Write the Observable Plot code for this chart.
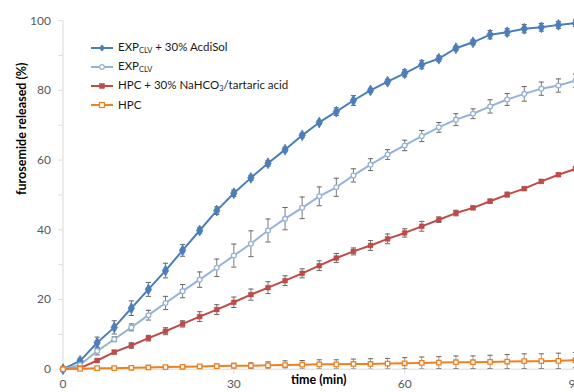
<!DOCTYPE html>
<html>
<head>
<meta charset="utf-8">
<script src="https://cdn.jsdelivr.net/npm/d3@7"></script>
<script src="https://cdn.jsdelivr.net/npm/@observablehq/plot@0.6"></script>
<style>
  html, body { margin: 0; padding: 0; background: #fff; overflow: hidden; }
  #wrap { position: relative; width: 574px; height: 392px; font-family: Lato, "Open Sans", sans-serif; }
  #legend { position: absolute; left: 91px; top: 38px; font-size: 11.5px; color: #1a1a1a; }
  #legend .row { display: flex; align-items: center; height: 19px; white-space: nowrap; }
  #legend svg { margin-right: 4px; }
  #legend sub { font-size: 7.5px; vertical-align: -2px; }
</style>
</head>
<body>
<div id="wrap"><div id="chart"></div><div id="legend"></div></div>
<script>
// ---- data ----
const time = [0,3,6,9,12,15,18,21,24,27,30,33,36,39,42,45,48,51,54,57,60,63,66,69,72,75,78,81,84,87,90];

const acdisol    = [0,2.4,7.6,12.0,17.5,22.9,28.3,34.1,39.8,45.5,50.5,54.9,59.1,63.0,67.1,70.8,73.9,77.1,80.0,82.5,84.9,87.4,89.1,92.1,93.8,96.0,96.7,97.7,98.1,98.8,99.3];
const acdisolErr = [0,0.6,1.6,1.9,2.1,2.0,2.1,1.7,0.8,1.1,0.9,0.7,0.8,0.6,0.6,0.5,1.1,1.4,0.6,0.7,1.0,1.2,0.8,0.6,0.7,1.2,1.0,1.2,1.1,1.0,1.0];

const expclv     = [0,1.2,5.2,8.6,12.0,15.5,19.0,22.4,25.7,29.1,32.6,36.0,39.8,43.2,46.3,49.6,52.2,55.6,58.7,61.6,64.2,66.9,69.4,71.6,73.3,75.4,77.4,79.0,80.5,81.4,82.8];
const expclvErr  = [0,0.3,1.1,0.7,1.0,1.4,1.9,1.9,2.2,2.5,3.3,3.7,3.3,3.2,3.1,2.7,2.6,1.9,1.7,1.4,1.5,1.6,1.4,1.7,1.4,1.9,1.7,2.1,1.9,1.9,1.9];

const hpcNa      = [0,0.3,2.5,4.9,6.8,8.9,10.9,13.0,15.1,17.1,19.2,21.4,23.4,25.4,27.5,29.7,31.9,33.8,35.5,37.4,39.1,41.0,42.9,44.8,46.3,48.2,50.1,51.8,53.9,55.8,57.5];
const hpcNaErr   = [0,0.2,0.5,0.5,0.8,0.8,1.0,0.9,1.4,1.4,1.5,1.6,1.7,1.4,1.3,1.4,1.3,1.0,1.4,1.4,1.2,1.4,0.8,0.8,0.5,0.6,0.7,0.5,0.5,0.5,0.5];

const hpc        = [0,0.1,0.3,0.3,0.4,0.5,0.6,0.7,0.8,0.9,1.0,1.0,1.1,1.2,1.3,1.4,1.4,1.5,1.5,1.6,1.7,1.8,1.9,2.0,2.0,2.1,2.2,2.3,2.3,2.4,2.6];
const hpcErr     = [0,0.2,0.3,0.3,0.3,0.3,0.4,0.4,0.5,0.6,0.7,0.8,1.0,1.2,1.2,1.3,1.3,1.4,1.5,1.5,1.6,1.7,1.7,1.8,1.8,1.9,2.0,2.1,2.1,2.2,2.2];

const seriesKeys = ["acdisol", "expclv", "hpcNa", "hpc"];
const seriesLabels = ["EXP<sub>CLV</sub> + 30% AcdiSol", "EXP<sub>CLV</sub>", "HPC + 30% NaHCO<sub>3</sub>/tartaric acid", "HPC"];
const xTicks = [0, 30, 60, 90];
const yTicks = [0, 10, 20, 30, 40, 50, 60, 70, 80, 90, 100];

// ---- styles ----
const colors = {acdisol: "#4A7EBB", expclv: "#95B3D7", hpcNa: "#BE4B48", hpc: "#F0801F"};
const markerStyle = {
  acdisol: {symbol: "diamond", r: 3.3, fill: colors.acdisol, stroke: colors.acdisol, strokeWidth: 0.8},
  expclv:  {symbol: "circle",  r: 2.4, fill: "white", stroke: colors.expclv, strokeWidth: 1.3},
  hpcNa:   {symbol: "square",  r: 2.7, fill: colors.hpcNa, stroke: colors.hpcNa, strokeWidth: 0.5},
  hpc:     {symbol: "square",  r: 2.5, fill: "white", stroke: colors.hpc, strokeWidth: 1.3}
};
const valuesBy = {acdisol, expclv, hpcNa, hpc};
const errBy = {acdisol: acdisolErr, expclv: expclvErr, hpcNa: hpcNaErr, hpc: hpcErr};

const rows = [];
for (const key of seriesKeys) {
  time.forEach((t, i) => rows.push({key, t, v: valuesBy[key][i], e: errBy[key][i]}));
}

const cap = {draw(ctx, size) { const r = Math.sqrt(size / Math.PI); ctx.moveTo(-r, 0); ctx.lineTo(r, 0); }};

const marks = [
  Plot.ruleY([0], {stroke: "#d9d9d9"}),
  Plot.ruleX([0], {stroke: "#d9d9d9"}),
  Plot.axisY({ticks: yTicks, tickSize: 4, tickPadding: 8, stroke: "#d9d9d9", fill: "#595959", fontSize: 12,
              tickFormat: d => d % 20 === 0 ? String(d) : "", label: null}),
  Plot.axisX({ticks: xTicks, tickSize: 5, tickPadding: 5, stroke: "#d9d9d9", fill: "#595959", fontSize: 12, label: null}),
  Plot.text(["time (min)"], {frameAnchor: "bottom", dy: 15, fontWeight: "bold", fontSize: 12.5, fill: "#000"}),
  Plot.text(["furosemide released (%)"], {frameAnchor: "left", dx: -41, rotate: -90, fontWeight: "bold", fontSize: 12.5, fill: "#000"})
];

for (const key of seriesKeys) {
  const d = rows.filter(r => r.key === key);
  marks.push(Plot.line(d, {x: "t", y: "v", stroke: colors[key], strokeWidth: 2}));
}
for (const key of seriesKeys) {
  const d = rows.filter(r => r.key === key && r.e > 0);
  const errColor = key === "hpc" ? "#9a9a9a" : "#7a7a7a";
  const clip = key === "hpc";
  marks.push(Plot.ruleX(d, {x: "t", y1: r => r.v - r.e, y2: r => r.v + r.e, stroke: errColor, strokeWidth: 1, clip}));
  marks.push(Plot.dot(d, {x: "t", y: r => r.v + r.e, symbol: cap, r: 2.6, stroke: "#666", strokeWidth: 1}));
  marks.push(Plot.dot(d, {x: "t", y: r => r.v - r.e, symbol: cap, r: 2.6, stroke: "#666", strokeWidth: 1, clip}));
}
for (const key of seriesKeys) {
  const d = rows.filter(r => r.key === key);
  marks.push(Plot.dot(d, {x: "t", y: "v", ...markerStyle[key]}));
}

const chart = Plot.plot({
  width: 574,
  height: 392,
  marginLeft: 62.5,
  marginRight: 0,
  marginTop: 20.2,
  marginBottom: 23.3,
  x: {domain: [0, 90], range: [62.5, 575], axis: null},
  y: {domain: [0, 100], axis: null},
  style: {fontFamily: "Lato, 'Open Sans', sans-serif", fontSize: "12px", background: "white"},
  marks
});
document.getElementById("chart").appendChild(chart);

// ---- legend ----
const legend = document.getElementById("legend");
seriesKeys.forEach((key, i) => {
  const m = markerStyle[key];
  const row = document.createElement("div");
  row.className = "row";
  let markerSvg;
  if (m.symbol === "diamond") markerSvg = `<path d="M11,1.5 L14,5 L11,8.5 L8,5 Z" fill="${m.fill}"/>`;
  else if (m.symbol === "circle") markerSvg = `<circle cx="11" cy="5" r="2.3" fill="white" stroke="${m.stroke}" stroke-width="1.2"/>`;
  else markerSvg = `<rect x="8.5" y="2.5" width="5" height="5" fill="${m.fill}" stroke="${m.stroke}" stroke-width="${m.fill === 'white' ? 1.2 : 0.5}"/>`;
  row.innerHTML = `<svg width="23" height="10" viewBox="0 0 23 10"><line x1="0" y1="5" x2="22" y2="5" stroke="${colors[key]}" stroke-width="2"/>${markerSvg}</svg><span>${seriesLabels[i]}</span>`;
  legend.appendChild(row);
});
</script>
</body>
</html>
